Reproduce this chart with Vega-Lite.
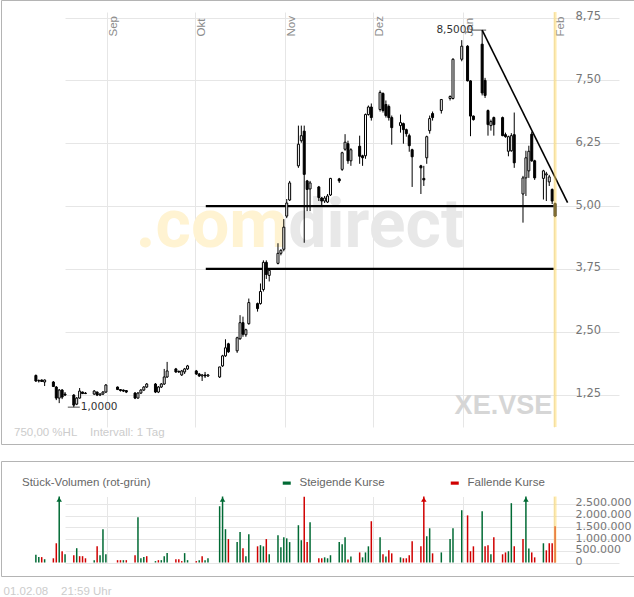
{
  "$schema": "https://vega.github.io/schema/vega-lite/v6.json",
  "background": "white",
  "padding": {"left": 0, "top": -1, "right": 0, "bottom": 0},
  "autosize": {"type": "pad"},
  "bounds": "flush",
  "spacing": 17,
  "config": {
    "view": {"stroke": "#b4b4b4", "strokeWidth": 1},
    "font": "Liberation Sans",
    "axis": {"labelOverlap": false}
  },
  "title": {"text": "01.02.08\u00a0\u00a0\u00a0\u00a021:59 Uhr", "orient": "bottom", "anchor": "start", "dx": 3, "offset": 9, "fontSize": 11.5, "fontWeight": "normal", "color": "#cccccc", "font": "Liberation Sans"},
  "datasets": {
    "ohlc": [
      {"d":"2007-08-07T12:00","o":1.63,"h":1.65,"l":1.50,"c":1.52,"v":330000,"vd":"s"},
      {"d":"2007-08-08T12:00","o":1.52,"h":1.55,"l":1.49,"c":1.53,"v":230000,"vd":"s"},
      {"d":"2007-08-09T12:00","o":1.54,"h":1.55,"l":1.50,"c":1.51,"v":230000,"vd":"f"},
      {"d":"2007-08-10T12:00","o":1.50,"h":1.55,"l":1.42,"c":1.54,"v":140000,"vd":"s"},
      {"d":"2007-08-13T12:00","o":1.50,"h":1.52,"l":1.40,"c":1.41,"v":180000,"vd":"f"},
      {"d":"2007-08-14T12:00","o":1.40,"h":1.42,"l":1.14,"c":1.18,"v":820000,"vd":"f"},
      {"d":"2007-08-15T12:00","o":1.18,"h":1.36,"l":1.08,"c":1.34,"v":3300000,"vd":"s"},
      {"d":"2007-08-16T12:00","o":1.34,"h":1.36,"l":1.16,"c":1.20,"v":480000,"vd":"f"},
      {"d":"2007-08-17T12:00","o":1.26,"h":1.30,"l":1.22,"c":1.24,"v":350000,"vd":"s"},
      {"d":"2007-08-20T12:00","o":1.24,"h":1.26,"l":1.00,"c":1.04,"v":310000,"vd":"f"},
      {"d":"2007-08-21T12:00","o":1.06,"h":1.20,"l":1.04,"c":1.18,"v":610000,"vd":"s"},
      {"d":"2007-08-22T12:00","o":1.18,"h":1.38,"l":1.17,"c":1.32,"v":270000,"vd":"f"},
      {"d":"2007-08-23T12:00","o":1.30,"h":1.31,"l":1.26,"c":1.27,"v":270000,"vd":"f"},
      {"d":"2007-08-24T12:00","o":1.28,"h":1.30,"l":1.26,"c":1.27,"v":180000,"vd":"f"},
      {"d":"2007-08-27T12:00","o":1.26,"h":1.34,"l":1.24,"c":1.32,"v":100000,"vd":"s"},
      {"d":"2007-08-28T12:00","o":1.30,"h":1.31,"l":1.22,"c":1.24,"v":690000,"vd":"f"},
      {"d":"2007-08-29T12:00","o":1.24,"h":1.28,"l":1.22,"c":1.26,"v":310000,"vd":"s"},
      {"d":"2007-08-30T12:00","o":1.26,"h":1.32,"l":1.24,"c":1.30,"v":1420000,"vd":"s"},
      {"d":"2007-08-31T12:00","o":1.30,"h":1.46,"l":1.28,"c":1.44,"v":350000,"vd":"s"},
      {"d":"2007-09-04T12:00","o":1.40,"h":1.41,"l":1.34,"c":1.35,"v":100000,"vd":"f"},
      {"d":"2007-09-05T12:00","o":1.35,"h":1.36,"l":1.31,"c":1.33,"v":100000,"vd":"f"},
      {"d":"2007-09-06T12:00","o":1.34,"h":1.35,"l":1.30,"c":1.32,"v":100000,"vd":"s"},
      {"d":"2007-09-07T12:00","o":1.33,"h":1.34,"l":1.28,"c":1.30,"v":100000,"vd":"f"},
      {"d":"2007-09-10T12:00","o":1.28,"h":1.30,"l":1.16,"c":1.18,"v":310000,"vd":"f"},
      {"d":"2007-09-11T12:00","o":1.18,"h":1.30,"l":1.17,"c":1.28,"v":1930000,"vd":"s"},
      {"d":"2007-09-12T12:00","o":1.28,"h":1.36,"l":1.26,"c":1.34,"v":180000,"vd":"s"},
      {"d":"2007-09-13T12:00","o":1.34,"h":1.42,"l":1.32,"c":1.40,"v":230000,"vd":"s"},
      {"d":"2007-09-14T12:00","o":1.40,"h":1.48,"l":1.38,"c":1.46,"v":270000,"vd":"f"},
      {"d":"2007-09-17T12:00","o":1.46,"h":1.48,"l":1.28,"c":1.30,"v":60000,"vd":"s"},
      {"d":"2007-09-18T12:00","o":1.30,"h":1.42,"l":1.28,"c":1.40,"v":100000,"vd":"f"},
      {"d":"2007-09-19T12:00","o":1.40,"h":1.48,"l":1.38,"c":1.46,"v":100000,"vd":"s"},
      {"d":"2007-09-20T12:00","o":1.46,"h":1.76,"l":1.44,"c":1.60,"v":270000,"vd":"s"},
      {"d":"2007-09-21T12:00","o":1.60,"h":1.90,"l":1.58,"c":1.72,"v":400000,"vd":"s"},
      {"d":"2007-09-24T12:00","o":1.76,"h":1.78,"l":1.68,"c":1.70,"v":140000,"vd":"f"},
      {"d":"2007-09-25T12:00","o":1.71,"h":1.73,"l":1.68,"c":1.70,"v":140000,"vd":"f"},
      {"d":"2007-09-26T12:00","o":1.64,"h":1.74,"l":1.62,"c":1.72,"v":60000,"vd":"f"},
      {"d":"2007-09-27T12:00","o":1.70,"h":1.78,"l":1.66,"c":1.76,"v":400000,"vd":"s"},
      {"d":"2007-09-28T12:00","o":1.76,"h":1.84,"l":1.74,"c":1.82,"v":100000,"vd":"s"},
      {"d":"2007-10-01T12:00","o":1.72,"h":1.74,"l":1.64,"c":1.66,"v":60000,"vd":"f"},
      {"d":"2007-10-02T12:00","o":1.66,"h":1.68,"l":1.60,"c":1.62,"v":100000,"vd":"s"},
      {"d":"2007-10-03T12:00","o":1.62,"h":1.66,"l":1.52,"c":1.64,"v":270000,"vd":"f"},
      {"d":"2007-10-04T12:00","o":1.64,"h":1.70,"l":1.58,"c":1.62,"v":100000,"vd":"s"},
      {"d":"2007-10-05T12:00","o":1.62,"h":1.66,"l":1.60,"c":1.64,"v":180000,"vd":"s"},
      {"d":"2007-10-09T12:00","o":1.60,"h":1.80,"l":1.58,"c":1.80,"v":2400000,"vd":"s"},
      {"d":"2007-10-10T12:00","o":1.82,"h":2.04,"l":1.80,"c":2.02,"v":3200000,"vd":"s"},
      {"d":"2007-10-11T12:00","o":2.02,"h":2.35,"l":2.00,"c":2.18,"v":1420000,"vd":"s"},
      {"d":"2007-10-12T12:00","o":2.26,"h":2.28,"l":2.08,"c":2.10,"v":1000000,"vd":"f"},
      {"d":"2007-10-15T12:00","o":2.12,"h":2.40,"l":2.08,"c":2.38,"v":870000,"vd":"s"},
      {"d":"2007-10-16T12:00","o":2.36,"h":2.83,"l":2.34,"c":2.68,"v":1300000,"vd":"s"},
      {"d":"2007-10-17T12:00","o":2.68,"h":2.80,"l":2.40,"c":2.45,"v":610000,"vd":"f"},
      {"d":"2007-10-18T12:00","o":2.44,"h":2.56,"l":2.40,"c":2.54,"v":270000,"vd":"s"},
      {"d":"2007-10-19T12:00","o":2.66,"h":3.16,"l":2.64,"c":3.08,"v":1200000,"vd":"s"},
      {"d":"2007-10-22T12:00","o":3.06,"h":3.08,"l":2.90,"c":2.96,"v":690000,"vd":"f"},
      {"d":"2007-10-23T12:00","o":3.06,"h":3.46,"l":3.04,"c":3.30,"v":740000,"vd":"s"},
      {"d":"2007-10-24T12:00","o":3.34,"h":3.92,"l":3.30,"c":3.88,"v":690000,"vd":"s"},
      {"d":"2007-10-25T12:00","o":3.88,"h":3.92,"l":3.55,"c":3.64,"v":1000000,"vd":"f"},
      {"d":"2007-10-26T12:00","o":3.62,"h":3.76,"l":3.50,"c":3.72,"v":350000,"vd":"s"},
      {"d":"2007-10-29T12:00","o":3.86,"h":4.26,"l":3.84,"c":4.06,"v":1160000,"vd":"s"},
      {"d":"2007-10-30T12:00","o":4.06,"h":4.14,"l":4.02,"c":4.12,"v":650000,"vd":"s"},
      {"d":"2007-10-31T12:00","o":4.14,"h":4.74,"l":4.10,"c":4.58,"v":1080000,"vd":"s"},
      {"d":"2007-11-01T12:00","o":4.80,"h":5.14,"l":4.76,"c":5.06,"v":1030000,"vd":"s"},
      {"d":"2007-11-02T12:00","o":5.12,"h":5.50,"l":5.10,"c":5.46,"v":870000,"vd":"s"},
      {"d":"2007-11-05T12:00","o":5.80,"h":6.60,"l":5.76,"c":6.23,"v":1590000,"vd":"s"},
      {"d":"2007-11-06T12:00","o":6.30,"h":6.60,"l":6.26,"c":6.40,"v":950000,"vd":"s"},
      {"d":"2007-11-07T12:00","o":6.49,"h":6.60,"l":4.27,"c":5.63,"v":2800000,"vd":"f"},
      {"d":"2007-11-08T12:00","o":5.50,"h":5.52,"l":4.90,"c":5.33,"v":870000,"vd":"f"},
      {"d":"2007-11-09T12:00","o":5.34,"h":5.50,"l":4.90,"c":5.46,"v":1720000,"vd":"s"},
      {"d":"2007-11-12T12:00","o":5.38,"h":5.40,"l":5.10,"c":5.17,"v":180000,"vd":"f"},
      {"d":"2007-11-13T12:00","o":5.16,"h":5.18,"l":5.02,"c":5.10,"v":180000,"vd":"f"},
      {"d":"2007-11-14T12:00","o":5.10,"h":5.20,"l":5.06,"c":5.16,"v":220000,"vd":"s"},
      {"d":"2007-11-15T12:00","o":5.08,"h":5.24,"l":5.06,"c":5.20,"v":180000,"vd":"s"},
      {"d":"2007-11-16T12:00","o":5.22,"h":5.56,"l":5.20,"c":5.55,"v":310000,"vd":"s"},
      {"d":"2007-11-19T12:00","o":5.54,"h":5.56,"l":5.46,"c":5.50,"v":870000,"vd":"s"},
      {"d":"2007-11-20T12:00","o":5.73,"h":6.08,"l":5.70,"c":6.06,"v":780000,"vd":"s"},
      {"d":"2007-11-21T12:00","o":6.13,"h":6.43,"l":6.10,"c":6.27,"v":1080000,"vd":"s"},
      {"d":"2007-11-22T12:00","o":6.24,"h":6.30,"l":5.84,"c":5.90,"v":130000,"vd":"f"},
      {"d":"2007-11-23T12:00","o":5.90,"h":6.15,"l":5.80,"c":6.12,"v":260000,"vd":"s"},
      {"d":"2007-11-26T12:00","o":6.19,"h":6.40,"l":5.84,"c":5.99,"v":430000,"vd":"f"},
      {"d":"2007-11-27T12:00","o":6.00,"h":6.02,"l":5.80,"c":5.96,"v":220000,"vd":"s"},
      {"d":"2007-11-28T12:00","o":6.00,"h":6.84,"l":5.94,"c":6.82,"v":430000,"vd":"s"},
      {"d":"2007-11-29T12:00","o":6.82,"h":7.00,"l":6.80,"c":6.97,"v":690000,"vd":"s"},
      {"d":"2007-11-30T12:00","o":6.97,"h":7.04,"l":6.70,"c":6.76,"v":1760000,"vd":"f"},
      {"d":"2007-12-03T12:00","o":6.92,"h":7.30,"l":6.88,"c":7.26,"v":1080000,"vd":"s"},
      {"d":"2007-12-04T12:00","o":7.24,"h":7.26,"l":6.86,"c":6.90,"v":350000,"vd":"f"},
      {"d":"2007-12-05T12:00","o":7.02,"h":7.10,"l":6.76,"c":6.80,"v":260000,"vd":"s"},
      {"d":"2007-12-06T12:00","o":6.98,"h":7.02,"l":6.70,"c":6.76,"v":520000,"vd":"f"},
      {"d":"2007-12-07T12:00","o":6.76,"h":6.80,"l":6.22,"c":6.56,"v":390000,"vd":"f"},
      {"d":"2007-12-10T12:00","o":6.60,"h":6.82,"l":6.46,"c":6.66,"v":220000,"vd":"s"},
      {"d":"2007-12-11T12:00","o":6.64,"h":6.66,"l":6.24,"c":6.52,"v":180000,"vd":"f"},
      {"d":"2007-12-12T12:00","o":6.52,"h":6.54,"l":6.38,"c":6.44,"v":180000,"vd":"f"},
      {"d":"2007-12-13T12:00","o":6.40,"h":6.44,"l":6.08,"c":6.20,"v":310000,"vd":"f"},
      {"d":"2007-12-14T12:00","o":6.12,"h":6.14,"l":5.38,"c":5.98,"v":910000,"vd":"f"},
      {"d":"2007-12-17T12:00","o":5.80,"h":5.82,"l":5.24,"c":5.76,"v":690000,"vd":"f"},
      {"d":"2007-12-18T12:00","o":5.55,"h":5.80,"l":5.40,"c":5.52,"v":3000000,"vd":"f"},
      {"d":"2007-12-19T12:00","o":5.96,"h":6.40,"l":5.84,"c":6.38,"v":1120000,"vd":"s"},
      {"d":"2007-12-20T12:00","o":6.50,"h":6.80,"l":6.44,"c":6.74,"v":1460000,"vd":"s"},
      {"d":"2007-12-21T12:00","o":6.84,"h":6.88,"l":6.70,"c":6.76,"v":390000,"vd":"f"},
      {"d":"2007-12-24T12:00","o":6.90,"h":7.12,"l":6.84,"c":7.12,"v":430000,"vd":"s"},
      {"d":"2007-12-27T12:00","o":7.14,"h":7.20,"l":7.10,"c":7.18,"v":1000000,"vd":"s"},
      {"d":"2007-12-28T12:00","o":7.14,"h":7.94,"l":7.12,"c":7.92,"v":1460000,"vd":"s"},
      {"d":"2007-12-31T12:00","o":7.92,"h":8.30,"l":7.88,"c":8.18,"v":2230000,"vd":"s"},
      {"d":"2008-01-02T12:00","o":8.18,"h":8.20,"l":7.48,"c":7.49,"v":2010000,"vd":"f"},
      {"d":"2008-01-03T12:00","o":7.49,"h":7.50,"l":6.39,"c":6.79,"v":480000,"vd":"f"},
      {"d":"2008-01-04T12:00","o":6.79,"h":6.80,"l":6.70,"c":6.72,"v":690000,"vd":"f"},
      {"d":"2008-01-07T12:00","o":8.22,"h":8.50,"l":7.20,"c":7.25,"v":2190000,"vd":"s"},
      {"d":"2008-01-08T12:00","o":7.50,"h":7.55,"l":7.15,"c":7.20,"v":690000,"vd":"f"},
      {"d":"2008-01-09T12:00","o":6.90,"h":6.92,"l":6.40,"c":6.62,"v":740000,"vd":"f"},
      {"d":"2008-01-10T12:00","o":6.60,"h":6.72,"l":6.50,"c":6.68,"v":350000,"vd":"s"},
      {"d":"2008-01-11T12:00","o":6.76,"h":6.78,"l":6.40,"c":6.62,"v":1080000,"vd":"f"},
      {"d":"2008-01-14T12:00","o":6.76,"h":6.78,"l":6.39,"c":6.40,"v":350000,"vd":"f"},
      {"d":"2008-01-15T12:00","o":6.42,"h":6.46,"l":6.36,"c":6.38,"v":430000,"vd":"f"},
      {"d":"2008-01-16T12:00","o":6.09,"h":6.40,"l":5.99,"c":6.38,"v":480000,"vd":"s"},
      {"d":"2008-01-17T12:00","o":6.10,"h":6.45,"l":6.08,"c":6.40,"v":2530000,"vd":"s"},
      {"d":"2008-01-18T12:00","o":6.42,"h":6.86,"l":5.76,"c":5.86,"v":690000,"vd":"f"},
      {"d":"2008-01-21T12:00","o":5.24,"h":5.60,"l":4.67,"c":5.56,"v":1000000,"vd":"f"},
      {"d":"2008-01-22T12:00","o":5.56,"h":6.10,"l":5.20,"c":5.96,"v":3400000,"vd":"s"},
      {"d":"2008-01-23T12:00","o":5.70,"h":6.20,"l":5.56,"c":6.09,"v":600000,"vd":"s"},
      {"d":"2008-01-24T12:00","o":6.43,"h":6.48,"l":5.88,"c":5.90,"v":430000,"vd":"f"},
      {"d":"2008-01-25T12:00","o":5.90,"h":5.92,"l":5.52,"c":5.56,"v":220000,"vd":"f"},
      {"d":"2008-01-28T12:00","o":5.55,"h":5.72,"l":5.13,"c":5.70,"v":820000,"vd":"s"},
      {"d":"2008-01-29T12:00","o":5.62,"h":5.68,"l":5.10,"c":5.64,"v":520000,"vd":"f"},
      {"d":"2008-01-30T12:00","o":5.48,"h":5.62,"l":5.40,"c":5.58,"v":820000,"vd":"f"},
      {"d":"2008-01-31T12:00","o":5.33,"h":5.35,"l":5.04,"c":5.10,"v":820000,"vd":"f"},
      {"d":"2008-02-01T12:00","o":5.05,"h":5.07,"l":4.78,"c":4.80,"v":1550000,"vd":"f"}
    ]
  },
  "vconcat": [
    {
      "width": 633,
      "height": 444,
      "title": {"text": "750,00 %HL\u00a0\u00a0\u00a0\u00a0Intervall: 1 Tag", "orient": "bottom", "anchor": "start", "dx": 13, "offset": -17, "fontSize": 11.5, "fontWeight": "normal", "color": "#cccccc", "font": "Liberation Sans"},
      "layer": [
        {
          "data": {"values": [{}]},
          "mark": {"type": "text", "text": ".com", "font": "Roboto", "fontWeight": "bold", "fontSize": 68, "align": "right", "baseline": "alphabetic", "color": "#fff3d2"},
          "encoding": {
            "x": {"datum": {"year": 2007, "month": 11, "date": 2}, "type": "temporal",
              "scale": {"domain": [{"year": 2007, "month": 8, "date": 2, "hours": 9, "minutes": 36}, {"year": 2008, "month": 2, "date": 4, "hours": 21, "minutes": 36}], "range": [15, 569]},
              "axis": {"orient": "top", "values": [{"year": 2007, "month": 9, "date": 1}, {"year": 2007, "month": 10, "date": 1}, {"year": 2007, "month": 11, "date": 1}, {"year": 2007, "month": 12, "date": 1}, {"year": 2008, "month": 1, "date": 1}, {"year": 2008, "month": 2, "date": 1}],
                "grid": true, "gridColor": "#e6e6e6", "domain": false, "ticks": false, "tickSize": 0, "labelAngle": 270, "labelAlign": "left", "labelBaseline": "top", "labelPadding": -36, "labelOffset": 0.5, "labelColor": "#8c8c8c", "labelFont": "Liberation Sans", "labelFontSize": 11.5, "labelOverlap": false, "labelBound": false, "labelFlush": false, "title": null,
                "labelExpr": "['Jan','Feb','Mär','Apr','Mai','Jun','Jul','Aug','Sep','Okt','Nov','Dez'][month(datum.value)]"}},
            "y": {"datum": 4.18, "type": "quantitative",
              "scale": {"domain": [0.605, 8.86], "range": [427, 12], "zero": false, "nice": false},
              "axis": {"orient": "right", "values": [1.25, 2.5, 3.75, 5, 6.25, 7.5, 8.75], "grid": true, "gridColor": "#e6e6e6", "domain": false, "ticks": false, "tickSize": 0, "labelPadding": -59, "labelAlign": "left", "labelBaseline": "middle", "labelOffset": -1, "labelFont": "DejaVu Sans", "labelFontSize": 11.5, "labelColor": "#777777", "labelOverlap": false, "title": null,
                "labelExpr": "replace(format(datum.value, '.2f'), '.', ',')"}}
          }
        },
        {
          "data": {"values": [{}]},
          "mark": {"type": "text", "text": "direct", "font": "Roboto", "fontWeight": "bold", "fontSize": 68, "align": "left", "baseline": "alphabetic", "color": "#e8e8e8"},
          "encoding": {
            "x": {"datum": {"year": 2007, "month": 11, "date": 2}, "type": "temporal"},
            "y": {"datum": 4.18, "type": "quantitative"}
          }
        },
        {
          "data": {"values": [{}]},
          "mark": {"type": "text", "text": "XE.VSE", "font": "Liberation Sans", "fontWeight": "bold", "fontSize": 27, "align": "right", "baseline": "alphabetic", "color": "#d6d6d6"},
          "encoding": {
            "x": {"datum": {"year": 2008, "month": 1, "date": 31, "hours": 12}, "type": "temporal"},
            "y": {"datum": 0.862, "type": "quantitative"}
          }
        },
        {
          "data": {"values": [
            {"x1": "2007-10-04T18:00", "x2": "2008-02-01T00:00", "y1": 5.0, "y2": 5.0},
            {"x1": "2007-10-04T18:00", "x2": "2008-02-01T00:00", "y1": 3.75, "y2": 3.75},
            {"x1": "2008-01-07T12:00", "x2": "2008-02-05T19:00", "y1": 8.5, "y2": 5.07}
          ]},
          "mark": {"type": "rule", "color": "#000000"},
          "encoding": {
            "x": {"field": "x1", "type": "temporal"},
            "x2": {"field": "x2"},
            "y": {"field": "y1", "type": "quantitative"},
            "y2": {"field": "y2"},
            "strokeWidth": {"condition": {"test": "datum.y1 == datum.y2", "value": 2.2}, "value": 1.6}
          }
        },
        {
          "data": {"name": "ohlc"},
          "mark": {"type": "rule", "color": "#000000", "strokeWidth": 1},
          "encoding": {
            "x": {"field": "d", "type": "temporal"},
            "y": {"field": "l", "type": "quantitative"},
            "y2": {"field": "h"}
          }
        },
        {
          "data": {"name": "ohlc"},
          "mark": {"type": "bar", "size": 2, "stroke": "#000000", "strokeWidth": 1},
          "encoding": {
            "x": {"field": "d", "type": "temporal"},
            "y": {"field": "o", "type": "quantitative"},
            "y2": {"field": "c"},
            "fill": {"condition": {"test": "datum.c >= datum.o", "value": "#ffffff"}, "value": "#000000"}
          }
        },
        {
          "data": {"values": [{}]},
          "mark": {"type": "rect", "fill": "#ffd75e", "opacity": 0.5},
          "encoding": {
            "x": {"datum": {"year": 2008, "month": 2, "date": 1}, "type": "temporal"},
            "x2": {"datum": {"year": 2008, "month": 2, "date": 2}},
            "y": {"datum": 0.605, "type": "quantitative"},
            "y2": {"datum": 8.86}
          }
        },
        {
          "data": {"values": [{"d": "2008-01-07T12:00", "p": 8.5, "t": "8,5000"}]},
          "layer": [
            {"mark": {"type": "tick", "orient": "horizontal", "size": 14, "thickness": 1, "color": "#000000", "xOffset": -3},
             "encoding": {"x": {"field": "d", "type": "temporal"}, "y": {"field": "p", "type": "quantitative"}}},
            {"mark": {"type": "text", "align": "right", "baseline": "middle", "dx": -9, "font": "DejaVu Sans", "fontSize": 10.5, "color": "#333333"},
             "encoding": {"x": {"field": "d", "type": "temporal"}, "y": {"field": "p", "type": "quantitative"}, "text": {"field": "t"}}}
          ]
        },
        {
          "data": {"values": [{"d": "2007-08-20T12:00", "p": 1.0, "t": "1,0000"}]},
          "layer": [
            {"mark": {"type": "tick", "orient": "horizontal", "size": 12, "thickness": 1, "color": "#000000"},
             "encoding": {"x": {"field": "d", "type": "temporal"}, "y": {"field": "p", "type": "quantitative"}}},
            {"mark": {"type": "text", "align": "left", "baseline": "middle", "dx": 7, "font": "DejaVu Sans", "fontSize": 10.5, "color": "#333333"},
             "encoding": {"x": {"field": "d", "type": "temporal"}, "y": {"field": "p", "type": "quantitative"}, "text": {"field": "t"}}}
          ]
        }
      ]
    },
    {
      "width": 633,
      "height": 115,
      "layer": [
        {
          "data": {"name": "ohlc"},
          "mark": {"type": "bar", "size": 1.5},
          "encoding": {
            "x": {"field": "d", "type": "temporal",
              "scale": {"domain": [{"year": 2007, "month": 8, "date": 2, "hours": 9, "minutes": 36}, {"year": 2008, "month": 2, "date": 4, "hours": 21, "minutes": 36}], "range": [15, 569]},
              "axis": {"orient": "top", "values": [{"year": 2007, "month": 9, "date": 1}, {"year": 2007, "month": 10, "date": 1}, {"year": 2007, "month": 11, "date": 1}, {"year": 2007, "month": 12, "date": 1}, {"year": 2008, "month": 1, "date": 1}, {"year": 2008, "month": 2, "date": 1}],
                "grid": true, "gridColor": "#e6e6e6", "domain": false, "ticks": false, "labels": false, "title": null}},
            "y": {"field": "v", "type": "quantitative",
              "scale": {"domain": [0, 2815000], "range": [101.5, 35.5], "clamp": true, "nice": false},
              "axis": {"orient": "right", "values": [0, 500000, 1000000, 1500000, 2000000, 2500000], "grid": true, "gridColor": "#e6e6e6", "domain": false, "ticks": false, "tickSize": 0, "labelPadding": -59, "labelAlign": "left", "labelBaseline": "middle", "labelOffset": -1, "labelFont": "DejaVu Sans", "labelFontSize": 11, "labelColor": "#777777", "labelOverlap": false, "labelBound": false, "labelFlush": false, "title": null,
                "labelExpr": "replace(replace(format(datum.value, ','), ',', '.'), ',', '.')"}},
            "color": {"field": "vd", "type": "nominal",
              "scale": {"domain": ["s", "f"], "range": ["#006a34", "#d00000"]},
              "legend": {"orient": "none", "legendX": 21, "legendY": 477, "direction": "horizontal", "title": "Stück-Volumen (rot-grün)", "titleOrient": "left", "titlePadding": 130, "titleFont": "Liberation Sans", "titleFontSize": 11.5, "titleFontWeight": "normal", "titleColor": "#666666", "titleBaseline": "middle", "labelFont": "Liberation Sans", "labelFontSize": 11.5, "labelColor": "#666666", "symbolType": "M-1,-0.4H1V0.4H-1Z", "symbolSize": 64, "symbolStrokeWidth": 0, "labelOffset": 7, "columnPadding": 64, "padding": 0,
                "labelExpr": "datum.value == 's' ? 'Steigende Kurse' : 'Fallende Kurse'"}}
          }
        },
        {
          "data": {"name": "ohlc"},
          "transform": [{"filter": "datum.v > 2815000"}],
          "mark": {"type": "point", "shape": "triangle-up", "filled": true, "size": 30, "opacity": 1, "yOffset": 3},
          "encoding": {
            "x": {"field": "d", "type": "temporal",
              "axis": {"orient": "top", "values": [{"year": 2007, "month": 9, "date": 1}, {"year": 2007, "month": 10, "date": 1}, {"year": 2007, "month": 11, "date": 1}, {"year": 2007, "month": 12, "date": 1}, {"year": 2008, "month": 1, "date": 1}, {"year": 2008, "month": 2, "date": 1}],
                "grid": true, "gridColor": "#e6e6e6", "domain": false, "ticks": false, "labels": false, "title": null}},
            "y": {"datum": 2815000, "type": "quantitative",
              "axis": {"orient": "right", "values": [0, 500000, 1000000, 1500000, 2000000, 2500000], "grid": true, "gridColor": "#e6e6e6", "domain": false, "ticks": false, "tickSize": 0, "labelPadding": -59, "labelAlign": "left", "labelBaseline": "middle", "labelOffset": -1, "labelFont": "DejaVu Sans", "labelFontSize": 11, "labelColor": "#777777", "labelOverlap": false, "labelBound": false, "labelFlush": false, "title": null,
                "labelExpr": "replace(replace(format(datum.value, ','), ',', '.'), ',', '.')"}},
            "color": {"field": "vd", "type": "nominal"}
          }
        },
        {
          "data": {"values": [{}]},
          "mark": {"type": "rect", "fill": "#ffd75e", "opacity": 0.5},
          "encoding": {
            "x": {"datum": {"year": 2008, "month": 2, "date": 1}, "type": "temporal",
              "axis": {"orient": "top", "values": [{"year": 2007, "month": 9, "date": 1}, {"year": 2007, "month": 10, "date": 1}, {"year": 2007, "month": 11, "date": 1}, {"year": 2007, "month": 12, "date": 1}, {"year": 2008, "month": 1, "date": 1}, {"year": 2008, "month": 2, "date": 1}],
                "grid": true, "gridColor": "#e6e6e6", "domain": false, "ticks": false, "labels": false, "title": null}},
            "x2": {"datum": {"year": 2008, "month": 2, "date": 2}},
            "y": {"datum": 0, "type": "quantitative",
              "axis": {"orient": "right", "values": [0, 500000, 1000000, 1500000, 2000000, 2500000], "grid": true, "gridColor": "#e6e6e6", "domain": false, "ticks": false, "tickSize": 0, "labelPadding": -59, "labelAlign": "left", "labelBaseline": "middle", "labelOffset": -1, "labelFont": "DejaVu Sans", "labelFontSize": 11, "labelColor": "#777777", "labelOverlap": false, "labelBound": false, "labelFlush": false, "title": null,
                "labelExpr": "replace(replace(format(datum.value, ','), ',', '.'), ',', '.')"}},
            "y2": {"datum": 2815000}
          }
        }
      ]
    }
  ]
}
